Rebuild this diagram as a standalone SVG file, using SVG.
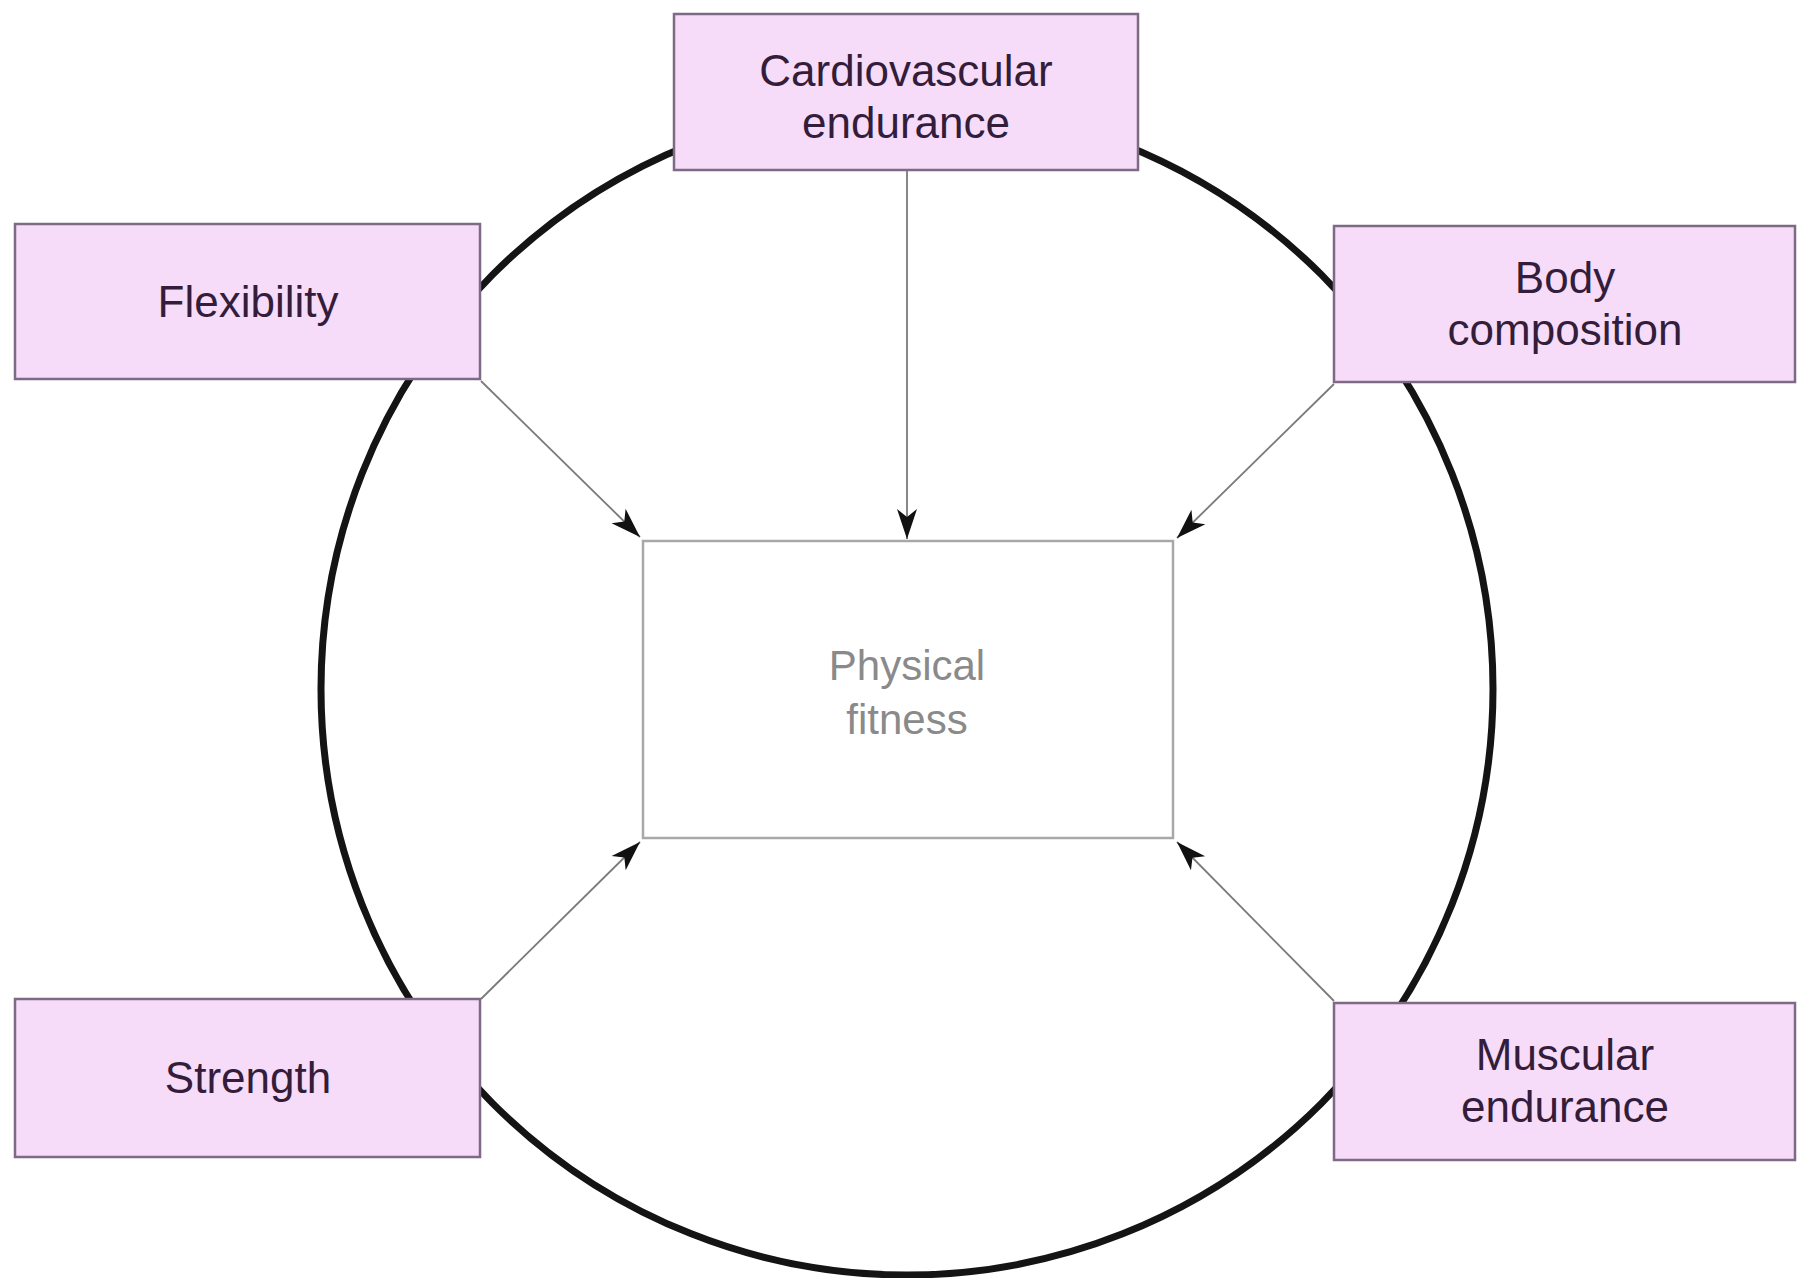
<svg xmlns="http://www.w3.org/2000/svg" width="1801" height="1278" viewBox="0 0 1801 1278">
<style>
.box{fill:#f6dcf8;stroke:#7e6a84;stroke-width:2.5}
.lbl{font-family:"Liberation Sans",Arial,sans-serif;font-size:44px;fill:#331d3b;text-anchor:middle}
.ctr{font-family:"Liberation Sans",Arial,sans-serif;font-size:42px;fill:#8a8a8a;text-anchor:middle}
.conn{stroke:#7a7a7a;stroke-width:1.8;fill:none;marker-end:url(#ah)}
</style>
<defs>
<marker id="ah" markerUnits="userSpaceOnUse" markerWidth="32" markerHeight="22" refX="30" refY="11" orient="auto">
<path d="M0,1 L30,11 L0,21 L8,11 Z" fill="#111"/>
</marker>
</defs>
<rect width="1801" height="1278" fill="#fff"/>
<circle id="ring" cx="907" cy="689" r="586" fill="none" stroke="#141414" stroke-width="7"/>
<g id="connectors">
<line class="conn" x1="907" y1="170" x2="907" y2="539"/>
<line class="conn" x1="481" y1="381" x2="640" y2="537"/>
<line class="conn" x1="1334" y1="384" x2="1177" y2="538"/>
<line class="conn" x1="481" y1="999" x2="640" y2="842"/>
<line class="conn" x1="1334" y1="1001" x2="1177" y2="842"/>
</g>
<g id="physical-fitness">
<rect x="643" y="541" width="530" height="297" fill="#fff" stroke="#a8a8a8" stroke-width="2.5"/>
<text class="ctr" x="907" y="680">Physical</text>
<text class="ctr" x="907" y="734">fitness</text>
</g>
<g id="cardiovascular">
<rect class="box" x="674" y="14" width="464" height="156"/>
<text class="lbl" x="906" y="86">Cardiovascular</text>
<text class="lbl" x="906" y="138">endurance</text>
</g>
<g id="flexibility">
<rect class="box" x="15" y="224" width="465" height="155"/>
<text class="lbl" x="248" y="317">Flexibility</text>
</g>
<g id="body-composition">
<rect class="box" x="1334" y="226" width="461" height="156"/>
<text class="lbl" x="1565" y="293">Body</text>
<text class="lbl" x="1565" y="345">composition</text>
</g>
<g id="strength">
<rect class="box" x="15" y="999" width="465" height="158"/>
<text class="lbl" x="248" y="1093">Strength</text>
</g>
<g id="muscular-endurance">
<rect class="box" x="1334" y="1003" width="461" height="157"/>
<text class="lbl" x="1565" y="1070">Muscular</text>
<text class="lbl" x="1565" y="1122">endurance</text>
</g>
</svg>
